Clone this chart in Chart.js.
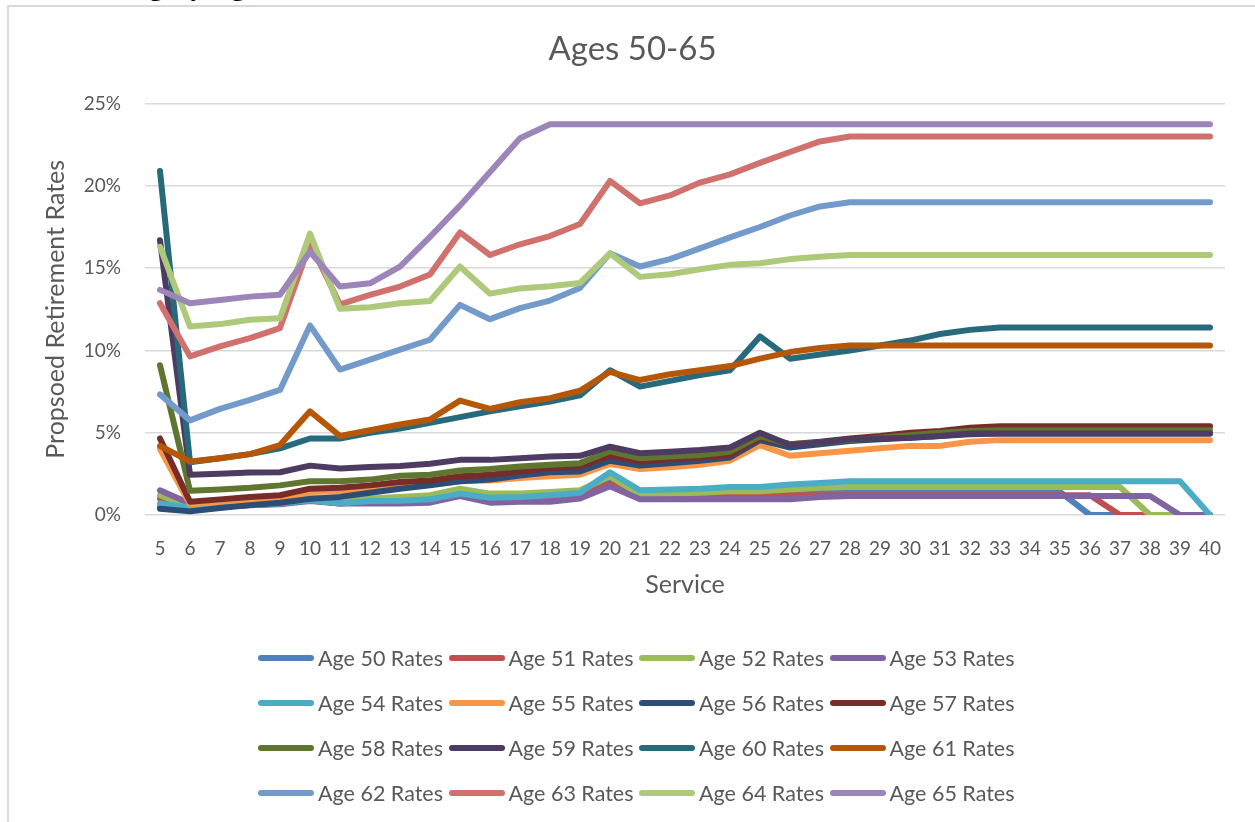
<!DOCTYPE html>
<html lang="en">
<head>
<meta charset="UTF-8">
<title>Ages 50-65</title>
<script src="https://cdn.jsdelivr.net/npm/chart.js@4.4.1/dist/chart.umd.min.js"></script>
<style>
    html, body {
        margin: 0;
        padding: 0;
        width: 1255px;
        height: 822px;
        overflow: hidden;
        background: #ffffff;
        font-family: Lato, "Open Sans", sans-serif;
    }
    #heading {
        position: absolute;
        left: 20px;
        top: -34px;
        font-size: 30px;
        font-weight: bold;
        color: #000000;
        white-space: nowrap;
    }
    #frame {
        position: absolute;
        left: 7px;
        top: 5px;
        width: 1300px;
        height: 900px;
        border-left: 2px solid #d9d9d9;
        border-top: 2px solid #d9d9d9;
        background: #ffffff;
    }
    #ratesChart {
        position: absolute;
        left: 0;
        top: 0;
    }
    #legend {
        position: absolute;
        left: 258px;
        top: 635px;
        display: grid;
        grid-template-columns: repeat(4, 190.5px);
    }
    .legend-item {
        display: flex;
        align-items: center;
        height: 45px;
        font-size: 21.5px;
        color: #595959;
        white-space: nowrap;
    }
    .legend-line {
        width: 56px;
        height: 6px;
        border-radius: 3px;
        margin-right: 4px;
        flex: none;
    }
</style>
</head>
<body>
<div id="heading">Smoothing by Age</div>
<div id="frame"></div>
<canvas id="ratesChart" width="1255" height="822"></canvas>
<div id="legend"></div>

<script>
// Years of service (x categories)
const services = [5, 6, 7, 8, 9, 10, 11, 12, 13, 14, 15, 16, 17, 18, 19, 20, 21, 22, 23,
    24, 25, 26, 27, 28, 29, 30, 31, 32, 33, 34, 35, 36, 37, 38, 39, 40];

// Proposed retirement rates, in percent, one list per age
const age50 = [0.5, 0.4, 0.5, 0.6, 0.7, 0.9, 0.8, 0.9, 0.9, 1.0, 1.3, 1.1, 1.1, 1.2, 1.3, 2.2, 1.3, 1.3,
    1.3, 1.3, 1.3, 1.4, 1.4, 1.4, 1.4, 1.4, 1.4, 1.4, 1.4, 1.4, 1.4, 0, 0, 0, 0, 0];
const age51 = [1.0, 0.4, 0.5, 0.6, 0.7, 0.9, 0.7, 0.8, 0.8, 0.9, 1.2, 0.9, 0.9, 1.0, 1.1, 1.9, 1.1, 1.15,
    1.15, 1.15, 1.2, 1.2, 1.2, 1.2, 1.2, 1.2, 1.2, 1.2, 1.2, 1.2, 1.2, 1.2, 0, 0, 0, 0];
const age52 = [1.2, 0.5, 0.6, 0.8, 0.9, 1.1, 0.9, 1.0, 1.1, 1.2, 1.6, 1.3, 1.3, 1.4, 1.5, 2.35, 1.25, 1.3,
    1.35, 1.45, 1.45, 1.55, 1.65, 1.7, 1.7, 1.7, 1.7, 1.7, 1.7, 1.7, 1.7, 1.7, 1.7, 0, 0, 0];
const age53 = [1.5, 0.7, 0.6, 0.6, 0.65, 0.85, 0.7, 0.7, 0.7, 0.75, 1.15, 0.75, 0.8, 0.8, 1.0, 1.75, 0.95, 0.95,
    0.95, 0.95, 0.95, 0.95, 1.1, 1.15, 1.15, 1.15, 1.15, 1.15, 1.15, 1.15, 1.15, 1.15, 1.15, 1.15, 0, 0];
const age54 = [0.7, 0.45, 0.5, 0.6, 0.7, 0.9, 0.7, 0.85, 0.87, 0.95, 1.3, 1.05, 1.1, 1.2, 1.35, 2.6, 1.5, 1.55,
    1.6, 1.7, 1.7, 1.85, 1.95, 2.05, 2.05, 2.05, 2.05, 2.05, 2.05, 2.05, 2.05, 2.05, 2.05, 2.05, 2.05, 0];
const age55 = [4.0, 0.65, 0.8, 0.9, 1.0, 1.4, 1.45, 1.55, 1.75, 1.85, 2.05, 2.1, 2.25, 2.35, 2.45, 3.1, 2.8, 2.9,
    3.05, 3.3, 4.25, 3.6, 3.75, 3.9, 4.05, 4.2, 4.2, 4.45, 4.55, 4.55, 4.55, 4.55, 4.55, 4.55, 4.55, 4.55];
const age56 = [0.38, 0.22, 0.42, 0.6, 0.75, 0.98, 1.1, 1.35, 1.6, 1.8, 2.05, 2.15, 2.4, 2.6, 2.65, 3.3, 3.0, 3.15,
    3.3, 3.5, 4.55, 4.1, 4.3, 4.5, 4.6, 4.7, 4.8, 4.9, 4.95, 4.95, 4.95, 4.95, 4.95, 4.95, 4.95, 4.95];
const age57 = [4.65, 0.8, 0.95, 1.1, 1.2, 1.6, 1.65, 1.8, 2.0, 2.1, 2.35, 2.45, 2.65, 2.85, 2.95, 3.6, 3.25, 3.4,
    3.5, 3.65, 4.7, 4.3, 4.45, 4.65, 4.8, 5.0, 5.1, 5.3, 5.4, 5.4, 5.4, 5.4, 5.4, 5.4, 5.4, 5.4];
const age58 = [9.1, 1.47, 1.55, 1.65, 1.8, 2.05, 2.05, 2.15, 2.38, 2.45, 2.7, 2.8, 2.95, 3.05, 3.15, 3.87, 3.45, 3.55,
    3.65, 3.85, 4.8, 4.3, 4.4, 4.55, 4.7, 4.85, 5.0, 5.1, 5.15, 5.15, 5.15, 5.15, 5.15, 5.15, 5.15, 5.15];
const age59 = [16.7, 2.45, 2.5, 2.58, 2.6, 3.0, 2.82, 2.92, 2.98, 3.12, 3.35, 3.35, 3.45, 3.55, 3.6, 4.15, 3.75, 3.85,
    3.95, 4.1, 5.0, 4.25, 4.4, 4.6, 4.65, 4.7, 4.8, 4.95, 4.95, 4.95, 4.95, 4.95, 4.95, 4.95, 4.95, 4.95];
const age60 = [20.9, 3.2, 3.45, 3.7, 4.05, 4.65, 4.65, 5.0, 5.25, 5.6, 5.95, 6.3, 6.6, 6.9, 7.27, 8.8, 7.8, 8.15,
    8.5, 8.8, 10.85, 9.5, 9.75, 10.0, 10.3, 10.6, 11.0, 11.25, 11.4, 11.4, 11.4, 11.4, 11.4, 11.4, 11.4, 11.4];
const age61 = [4.2, 3.25, 3.45, 3.7, 4.25, 6.3, 4.8, 5.15, 5.5, 5.8, 6.95, 6.45, 6.85, 7.1, 7.55, 8.7, 8.2, 8.55,
    8.8, 9.05, 9.5, 9.9, 10.15, 10.3, 10.3, 10.3, 10.3, 10.3, 10.3, 10.3, 10.3, 10.3, 10.3, 10.3, 10.3, 10.3];
const age62 = [7.33, 5.75, 6.45, 7.0, 7.6, 11.52, 8.84, 9.44, 10.05, 10.65, 12.77, 11.9, 12.57, 13.03, 13.8, 15.9, 15.1, 15.55,
    16.2, 16.87, 17.5, 18.2, 18.75, 19.0, 19.0, 19.0, 19.0, 19.0, 19.0, 19.0, 19.0, 19.0, 19.0, 19.0, 19.0, 19.0];
const age63 = [12.87, 9.64, 10.25, 10.75, 11.36, 16.5, 12.8, 13.38, 13.88, 14.62, 17.17, 15.8, 16.45, 16.95, 17.68, 20.3, 18.94, 19.42,
    20.2, 20.7, 21.4, 22.06, 22.7, 23.0, 23.0, 23.0, 23.0, 23.0, 23.0, 23.0, 23.0, 23.0, 23.0, 23.0, 23.0, 23.0];
const age64 = [16.3, 11.45, 11.6, 11.86, 11.96, 17.1, 12.53, 12.62, 12.87, 13.0, 15.1, 13.45, 13.77, 13.9, 14.1, 15.9, 14.47, 14.63,
    14.93, 15.2, 15.3, 15.55, 15.7, 15.8, 15.8, 15.8, 15.8, 15.8, 15.8, 15.8, 15.8, 15.8, 15.8, 15.8, 15.8, 15.8];
const age65 = [13.68, 12.87, 13.07, 13.27, 13.38, 16.0, 13.88, 14.08, 15.09, 16.9, 18.8, 20.85, 22.9, 23.75, 23.75, 23.75, 23.75, 23.75,
    23.75, 23.75, 23.75, 23.75, 23.75, 23.75, 23.75, 23.75, 23.75, 23.75, 23.75, 23.75, 23.75, 23.75, 23.75, 23.75, 23.75, 23.75];

// Series names, in the same order as the lists below
const seriesLabels = ['Age 50 Rates', 'Age 51 Rates', 'Age 52 Rates', 'Age 53 Rates',
    'Age 54 Rates', 'Age 55 Rates', 'Age 56 Rates', 'Age 57 Rates',
    'Age 58 Rates', 'Age 59 Rates', 'Age 60 Rates', 'Age 61 Rates',
    'Age 62 Rates', 'Age 63 Rates', 'Age 64 Rates', 'Age 65 Rates'];
const seriesValues = [age50, age51, age52, age53, age54, age55, age56, age57,
    age58, age59, age60, age61, age62, age63, age64, age65];

// Y axis range and step, in percent
const yMin = 0;
const yMax = 25;
const yStep = 5;

// Line colours (Office palette, then its darker and lighter shades)
const seriesColors = ['#4f81bd', '#c0504d', '#9bbb59', '#8064a2',
    '#4bacc6', '#f79646', '#2c4d75', '#772c2a',
    '#5f7530', '#4d3b62', '#276a7c', '#b65708',
    '#729aca', '#d0716e', '#afc97a', '#9c85b8'];

const textColor = '#595959';
const fontFamily = 'Lato, "Open Sans", sans-serif';

// Build the datasets; later ages are painted on top, as in the original
const datasets = seriesValues.map((values, i) => ({
    label: seriesLabels[i],
    data: values,
    borderColor: seriesColors[i],
    backgroundColor: seriesColors[i],
    borderWidth: 6,
    borderCapStyle: 'round',
    borderJoinStyle: 'round',
    pointRadius: 0,
    tension: 0,
    fill: false,
    order: seriesValues.length - i
}));

const ctx = document.getElementById('ratesChart').getContext('2d');
new Chart(ctx, {
    type: 'line',
    data: {
        labels: services,
        datasets: datasets
    },
    options: {
        responsive: false,
        animation: false,
        layout: {
            padding: { left: 40, right: 30, top: 0, bottom: 222 }
        },
        plugins: {
            legend: { display: false },
            tooltip: { enabled: false },
            title: {
                display: true,
                text: 'Ages 50-65',
                color: textColor,
                font: { family: fontFamily, size: 33, weight: 'normal' },
                padding: { top: 30, bottom: 34 }
            }
        },
        scales: {
            x: {
                offset: true,
                grid: { display: false, drawTicks: false },
                border: { display: false },
                ticks: {
                    color: textColor,
                    font: { family: fontFamily, size: 19 },
                    padding: 22,
                    autoSkip: false,
                    maxRotation: 0
                },
                title: {
                    display: true,
                    text: 'Service',
                    color: textColor,
                    font: { family: fontFamily, size: 25 },
                    padding: { top: 0, bottom: 0 }
                },
                afterFit: (scale) => { scale.height = 85; }
            },
            y: {
                min: yMin,
                max: yMax,
                grid: { color: '#d9d9d9', lineWidth: 1.5, drawTicks: false },
                border: { display: false },
                ticks: {
                    stepSize: yStep,
                    color: textColor,
                    font: { family: fontFamily, size: 19 },
                    padding: 24,
                    callback: (value) => value + '%'
                },
                title: {
                    display: true,
                    text: 'Propsoed Retirement Rates',
                    color: textColor,
                    font: { family: fontFamily, size: 25 },
                    padding: { top: 1, bottom: 0 }
                },
                afterFit: (scale) => { scale.width = 105; }
            }
        }
    }
});

// Legend in four columns, built from the same names and colours
const legendBox = document.getElementById('legend');
seriesLabels.forEach((label, i) => {
    const item = document.createElement('div');
    item.className = 'legend-item';
    item.innerHTML = `<span class="legend-line" style="background:${seriesColors[i]}"></span>${label}`;
    legendBox.appendChild(item);
});
</script>
</body>
</html>
